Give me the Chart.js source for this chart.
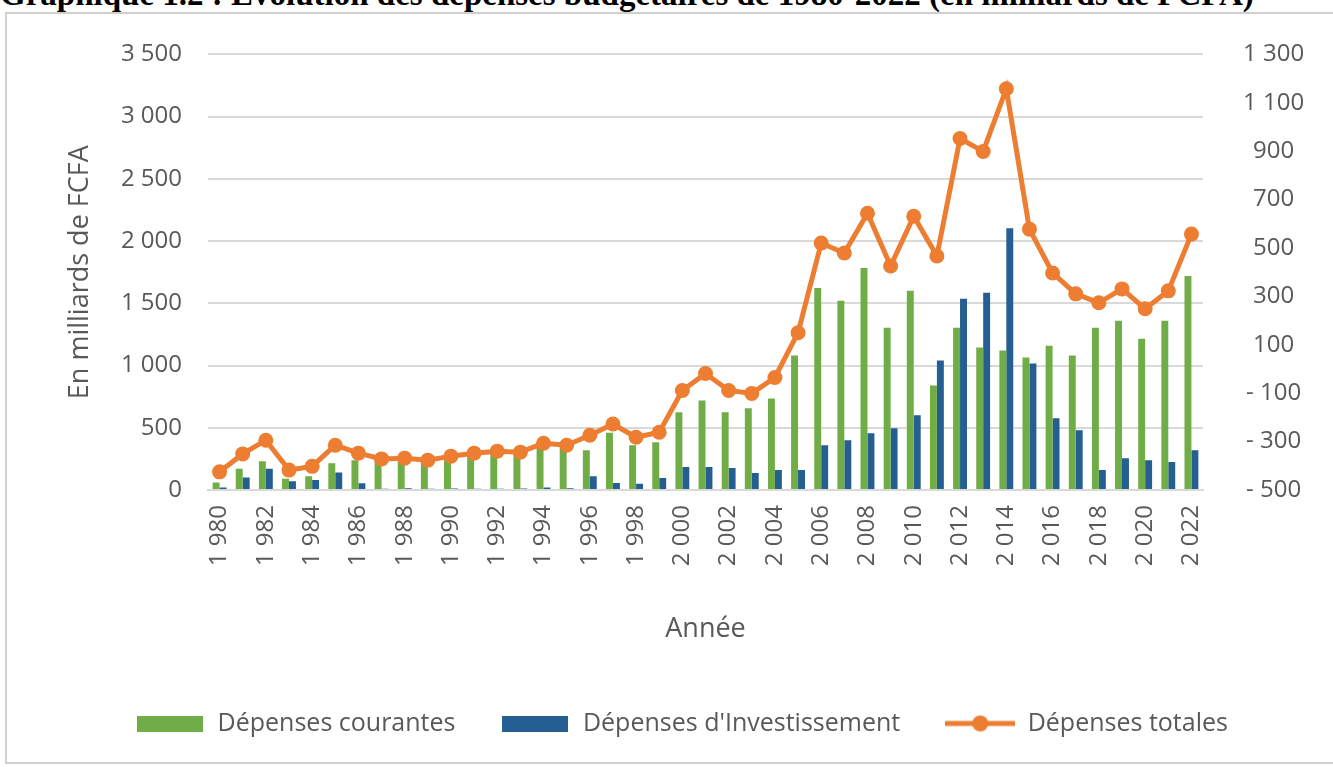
<!DOCTYPE html>
<html>
<head>
<meta charset="utf-8">
<script src="https://cdn.jsdelivr.net/npm/chart.js@4.4.1/dist/chart.umd.min.js"></script>
<style>
  html, body { margin: 0; padding: 0; background: #fff; overflow: hidden; }
  #title {
    position: absolute; left: 0; top: -24px; white-space: nowrap;
    font: bold 33px "Liberation Serif", serif; color: #000;
  }
  #frame {
    position: absolute; left: 5px; top: 12px; width: 1340px; height: 752px;
    border: 2px solid #cfcfcf; box-sizing: border-box;
  }
  #wrap { position: absolute; left: 0; top: 0; width: 1333px; height: 767px; }
</style>
</head>
<body>
<div id="title">Graphique 1.2 : Evolution des dépenses budgétaires de 1980-2022 (en milliards de FCFA)</div>
<div id="frame"></div>
<div id="wrap"><canvas id="main-chart" width="1333" height="767"></canvas></div>
<script>
const years = [1980, 1981, 1982, 1983, 1984, 1985, 1986, 1987, 1988, 1989,
  1990, 1991, 1992, 1993, 1994, 1995, 1996, 1997, 1998, 1999,
  2000, 2001, 2002, 2003, 2004, 2005, 2006, 2007, 2008, 2009,
  2010, 2011, 2012, 2013, 2014, 2015, 2016, 2017, 2018, 2019,
  2020, 2021, 2022];

// Dépenses courantes (milliards FCFA)
const courantes = [60, 170, 230, 90, 110, 215, 240, 235, 240, 230,
  260, 285, 300, 290, 350, 340, 320, 460, 360, 384,
  624, 720, 624, 656, 736, 1080, 1624, 1520, 1784, 1304,
  1600, 840, 1304, 1144, 1120, 1064, 1160, 1080, 1304, 1360,
  1216, 1360, 1720];

// Dépenses d'Investissement
const investissement = [20, 100, 170, 70, 80, 140, 55, 10, 15, 10,
  12, 10, 10, 12, 20, 15, 110, 56, 50, 96,
  184, 184, 176, 136, 160, 160, 360, 400, 456, 496,
  600, 1040, 1536, 1584, 2104, 1016, 576, 480, 160, 256,
  240, 224, 320];

// Dépenses totales
const totales = [146, 290, 400, 160, 190, 360, 296, 250, 256, 240,
  272, 296, 312, 304, 376, 360, 440, 530, 424, 464,
  800, 936, 800, 776, 904, 1264, 1984, 1904, 2224, 1800,
  2200, 1880, 2824, 2720, 3224, 2096, 1744, 1576, 1504, 1616,
  1456, 1600, 2056];

const GREEN = "#70ad47";
const BLUE = "#255e91";
const ORANGE = "#ed7d31";
const TEXT = "#595959";
const GRID = "#d9d9d9";

function fmt(v) {
  const s = String(Math.abs(v)).replace(/\B(?=(\d{3})+(?!\d))/g, " ");
  return v < 0 ? "- " + s : s;
}

function boxIcon(color) {
  const c = document.createElement("canvas");
  c.width = 66; c.height = 16;
  const g = c.getContext("2d");
  g.fillStyle = color;
  g.fillRect(0, 0, 66, 16);
  return c;
}

function lineIcon(color) {
  const c = document.createElement("canvas");
  c.width = 70; c.height = 20;
  const g = c.getContext("2d");
  g.strokeStyle = color;
  g.lineWidth = 5;
  g.beginPath(); g.moveTo(0, 10); g.lineTo(70, 10); g.stroke();
  g.fillStyle = color;
  g.beginPath(); g.arc(35, 10, 8, 0, Math.PI * 2); g.fill();
  return c;
}

const icons = [boxIcon(GREEN), boxIcon(BLUE), lineIcon(ORANGE)];

Chart.defaults.font.family = "'Open Sans', sans-serif";
Chart.defaults.color = TEXT;

const ctx = document.getElementById("main-chart").getContext("2d");
new Chart(ctx, {
  data: {
    labels: years,
    datasets: [
      {
        type: "bar",
        label: "Dépenses courantes",
        data: courantes,
        backgroundColor: GREEN,
        categoryPercentage: 0.6,
        barPercentage: 1.0,
        yAxisID: "y",
        order: 1
      },
      {
        type: "bar",
        label: "Dépenses d'Investissement",
        data: investissement,
        backgroundColor: BLUE,
        categoryPercentage: 0.6,
        barPercentage: 1.0,
        yAxisID: "y",
        order: 1
      },
      {
        type: "line",
        label: "Dépenses totales",
        data: totales,
        borderColor: ORANGE,
        backgroundColor: ORANGE,
        borderWidth: 5,
        pointRadius: 7.5,
        pointBackgroundColor: ORANGE,
        pointBorderWidth: 0,
        tension: 0,
        yAxisID: "y",
        order: 0
      }
    ]
  },
  options: {
    responsive: false,
    animation: false,
    layout: { padding: { left: 40, right: 10, top: 52, bottom: 21 } },
    plugins: {
      tooltip: { enabled: false },
      legend: {
        position: "bottom",
        labels: {
          usePointStyle: true,
          pointStyleWidth: 70,
          padding: 45,
          color: TEXT,
          font: { size: 25 },
          generateLabels: chart => chart.data.datasets.map((ds, i) => ({
            text: ds.label,
            pointStyle: icons[i],
            fillStyle: ds.backgroundColor,
            strokeStyle: ds.backgroundColor,
            lineWidth: 0,
            fontColor: TEXT,
            datasetIndex: i
          }))
        }
      }
    },
    scales: {
      x: {
        offset: true,
        grid: { display: false, drawTicks: false },
        border: { display: true, color: GRID, width: 2 },
        ticks: {
          autoSkip: false,
          minRotation: 90,
          maxRotation: 90,
          padding: 15,
          color: TEXT,
          font: { size: 24 },
          callback: function (value, index) {
            return index % 2 === 0 ? fmt(years[index]) : "";
          }
        },
        title: {
          display: true,
          text: "Année",
          color: TEXT,
          font: { size: 27 },
          padding: { top: 0, bottom: 20 }
        },
        afterFit: scale => { scale.height = 176; }
      },
      y: {
        position: "left",
        min: 0,
        max: 3500,
        grid: { color: GRID, lineWidth: 2, drawTicks: false },
        border: { display: false },
        ticks: {
          stepSize: 500,
          padding: 26,
          color: TEXT,
          font: { size: 24 },
          callback: v => fmt(v)
        },
        title: {
          display: true,
          text: "En milliards de FCFA",
          color: TEXT,
          font: { size: 27 },
          padding: { top: 24, bottom: 0 }
        },
        afterFit: scale => { scale.width = 168; }
      },
      y2: {
        position: "right",
        min: -500,
        max: 1300,
        grid: { display: false, drawTicks: false },
        border: { display: false },
        ticks: {
          stepSize: 200,
          padding: 40,
          crossAlign: "center",
          color: TEXT,
          font: { size: 24 },
          callback: v => fmt(v)
        },
        afterFit: scale => { scale.width = 120; }
      }
    }
  }
});
</script>
</body>
</html>
